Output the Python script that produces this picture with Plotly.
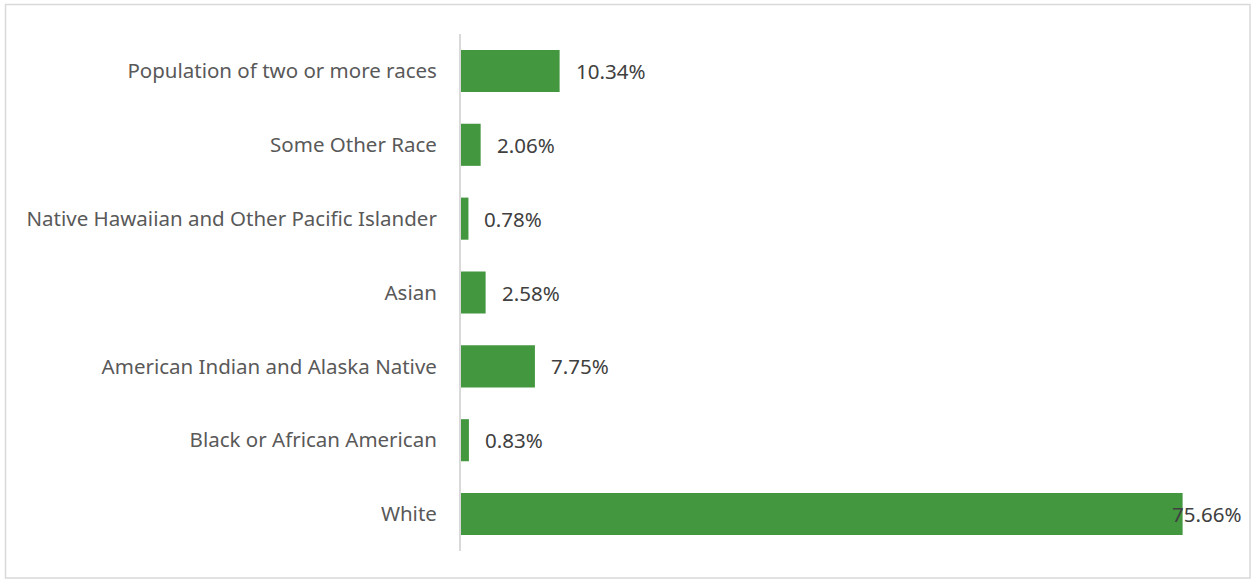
import plotly.graph_objects as go

categories = ["White", "Black or African American", "American Indian and Alaska Native",
              "Asian", "Native Hawaiian and Other Pacific Islander", "Some Other Race",
              "Population of two or more races"]
values = [75.66, 0.83, 7.75, 2.58, 0.78, 2.06, 10.34]
labels = ["75.66%", "0.83%", "7.75%", "2.58%", "0.78%", "2.06%", "10.34%"]

W, H = 1252, 580
L, R, T, B = 461, 28, 34, 29
pw, ph = W - L - R, H - T - B

fig = go.Figure(go.Bar(
    x=values, y=categories, orientation="h",
    marker=dict(color="#43973F", line=dict(width=0)),
    width=0.57, hoverinfo="skip",
))

for c, v, t in zip(categories, values, labels):
    fig.add_annotation(x=v, y=c, text=t, showarrow=False, xanchor="left",
                       xshift=(-13 if v > 50 else 14),
                       font=dict(family="Noto Sans", size=20.5, color="#404040"))

def px_x(p):
    return (p - L) / pw

def px_y(p):
    return 1 - (p - T) / ph

fig.add_shape(type="rect", xref="paper", yref="paper",
              x0=px_x(5.5), x1=px_x(1250), y0=px_y(4.5), y1=px_y(578),
              line=dict(color="#D9D9D9", width=1.5), fillcolor="rgba(0,0,0,0)")

fig.update_layout(
    width=W, height=H,
    margin=dict(l=L, r=R, t=T, b=B),
    paper_bgcolor="white", plot_bgcolor="white",
    showlegend=False,
    xaxis=dict(range=[0, 80], visible=False, fixedrange=True),
    yaxis=dict(showline=True, linecolor="#D9D9D9", linewidth=2, ticks="",
               showgrid=False, zeroline=False, ticklabelstandoff=18,
               tickfont=dict(family="Noto Sans", size=20.5, color="#595959"),
               categoryorder="array", categoryarray=categories),
)

fig.write_html("out.html")
